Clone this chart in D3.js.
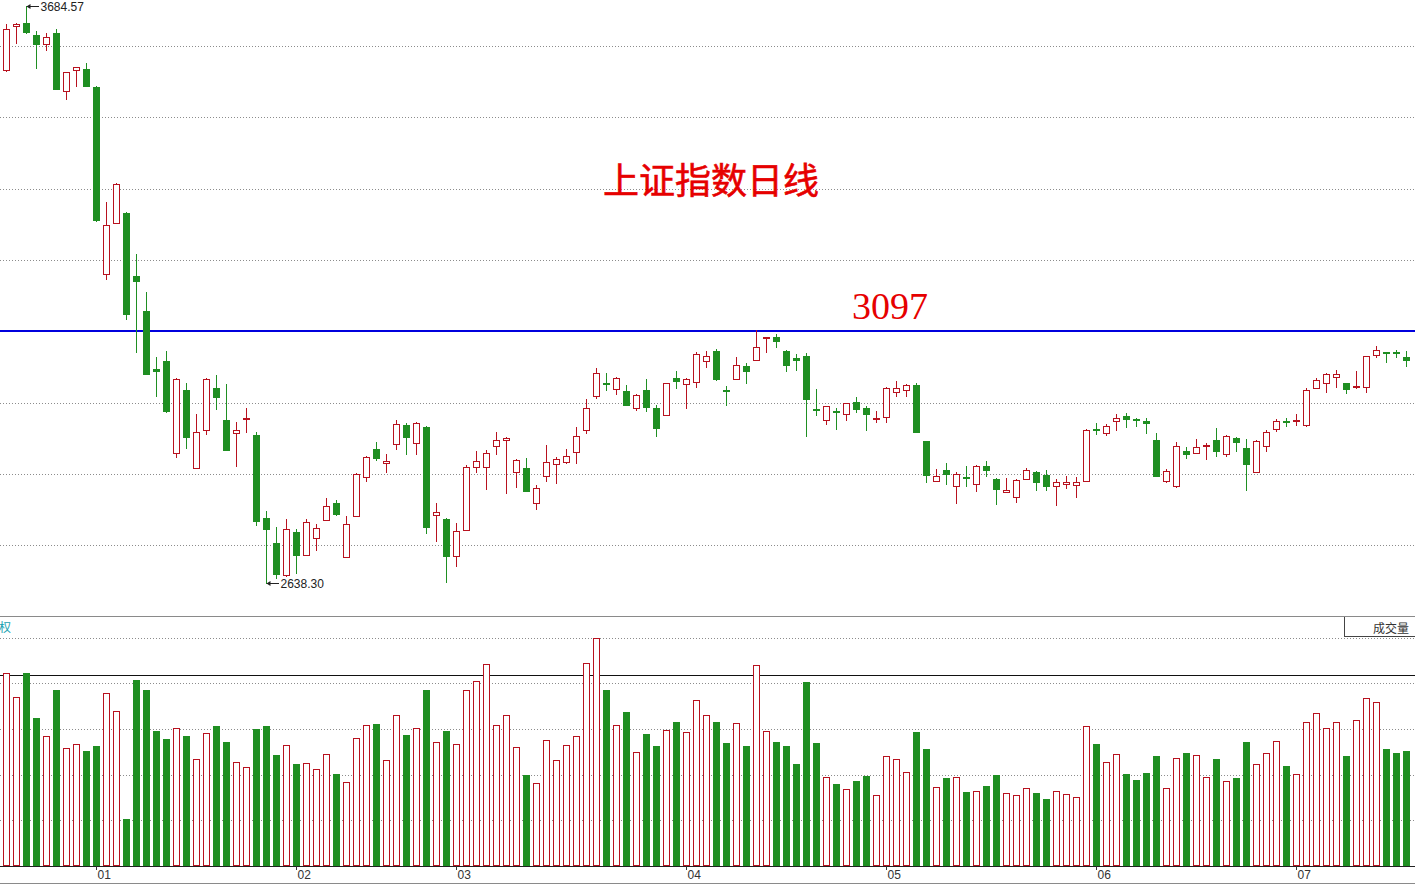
<!DOCTYPE html>
<html lang="zh-CN">
<head>
<meta charset="UTF-8">
<title>上证指数日线</title>
<style>
  body { margin: 0; background: #fff; overflow: hidden; }
  svg { display: block; }
  .grid line { stroke: #8c8c8c; stroke-dasharray: 1,2; }
  .month-axis text { font-family: "Liberation Sans", Arial, sans-serif; font-size: 12px; fill: #333; }
  .month-axis .domain { display: none; }
  .month-axis line { stroke: #333; }
  .note { font-family: "Liberation Sans", Arial, sans-serif; font-size: 12px; fill: #222; }
</style>
</head>
<body>
<div id="chart"></div>
<script src="https://d3js.org/d3.v7.min.js"></script>
<script>
// trading days, 2015-12-21 .. 2016-07-18
const dates = [
  "2015-12-21","2015-12-22","2015-12-23","2015-12-24","2015-12-25","2015-12-28","2015-12-29","2015-12-30","2015-12-31",
  "2016-01-04","2016-01-05","2016-01-06","2016-01-07","2016-01-08","2016-01-11","2016-01-12","2016-01-13","2016-01-14","2016-01-15",
  "2016-01-18","2016-01-19","2016-01-20","2016-01-21","2016-01-22","2016-01-25","2016-01-26","2016-01-27","2016-01-28","2016-01-29",
  "2016-02-01","2016-02-02","2016-02-03","2016-02-04","2016-02-05","2016-02-15","2016-02-16","2016-02-17","2016-02-18","2016-02-19",
  "2016-02-22","2016-02-23","2016-02-24","2016-02-25","2016-02-26","2016-02-29",
  "2016-03-01","2016-03-02","2016-03-03","2016-03-04","2016-03-07","2016-03-08","2016-03-09","2016-03-10","2016-03-11",
  "2016-03-14","2016-03-15","2016-03-16","2016-03-17","2016-03-18","2016-03-21","2016-03-22","2016-03-23","2016-03-24","2016-03-25",
  "2016-03-28","2016-03-29","2016-03-30","2016-03-31",
  "2016-04-01","2016-04-05","2016-04-06","2016-04-07","2016-04-08","2016-04-11","2016-04-12","2016-04-13","2016-04-14","2016-04-15",
  "2016-04-18","2016-04-19","2016-04-20","2016-04-21","2016-04-22","2016-04-25","2016-04-26","2016-04-27","2016-04-28","2016-04-29",
  "2016-05-03","2016-05-04","2016-05-05","2016-05-06","2016-05-09","2016-05-10","2016-05-11","2016-05-12","2016-05-13",
  "2016-05-16","2016-05-17","2016-05-18","2016-05-19","2016-05-20","2016-05-23","2016-05-24","2016-05-25","2016-05-26","2016-05-27",
  "2016-05-30","2016-05-31",
  "2016-06-01","2016-06-02","2016-06-03","2016-06-06","2016-06-07","2016-06-08","2016-06-13","2016-06-14","2016-06-15","2016-06-16","2016-06-17",
  "2016-06-20","2016-06-21","2016-06-22","2016-06-23","2016-06-24","2016-06-27","2016-06-28","2016-06-29","2016-06-30",
  "2016-07-01","2016-07-04","2016-07-05","2016-07-06","2016-07-07","2016-07-08","2016-07-11","2016-07-12","2016-07-13","2016-07-14","2016-07-15",
  "2016-07-18"
];

const open = [
  3568.6, 3648.3, 3653.2, 3632.0, 3615.2, 3635.6, 3530.0, 3568.0, 3570.4, 3538.3,
  3198.3, 3291.8, 3310.0, 3195.3, 3131.8, 3026.2, 3041.2, 2875.0, 2988.6, 2847.8,
  2915.6, 2992.8, 2934.3, 2911.3, 2935.5, 2907.6, 2756.7, 2711.4, 2653.9, 2731.3,
  2689.1, 2719.9, 2753.0, 2783.9, 2685.5, 2759.8, 2830.4, 2881.7, 2856.4, 2890.2,
  2925.2, 2892.1, 2921.6, 2761.6, 2754.9, 2688.4, 2734.0, 2848.6, 2849.6, 2887.7,
  2897.5, 2840.6, 2847.3, 2783.3, 2832.2, 2855.1, 2858.7, 2876.8, 2916.7, 2977.8,
  3001.9, 2991.0, 2986.8, 2956.0, 2988.6, 2956.0, 2942.8, 3009.9, 2999.0, 3002.6,
  3040.7, 3059.9, 2988.1, 3008.0, 3032.7, 3042.5, 3082.3, 3085.2, 3059.3, 3046.1,
  3050.8, 2954.2, 2933.7, 2951.1, 2945.7, 2966.3, 2956.0, 2936.1, 2940.3, 2984.5,
  2988.1, 2997.7, 2896.2, 2822.8, 2843.7, 2814.1, 2830.4, 2817.7, 2851.4, 2827.4,
  2803.2, 2794.2, 2826.8, 2840.0, 2834.6, 2814.1, 2818.8, 2815.9, 2823.2, 2918.0,
  2911.3, 2931.9, 2941.0, 2936.6, 2933.0, 2898.0, 2824.3, 2815.2, 2878.1, 2873.9,
  2888.4, 2898.0, 2872.7, 2901.7, 2883.5, 2840.6, 2886.6, 2918.5, 2931.9, 2931.9,
  2925.2, 2992.8, 3000.8, 3011.7, 3001.3, 2994.1, 2993.5, 3051.5, 3057.0, 3057.5,
  3048.4
];
const high = [
  3651.4, 3653.2, 3684.57, 3639.8, 3635.1, 3642.9, 3565.0, 3574.6, 3581.8, 3539.6,
  3329.9, 3363.2, 3311.2, 3235.1, 3165.7, 3047.9, 3059.3, 3010.9, 3001.9, 2945.2,
  3010.9, 3015.8, 2999.5, 2930.1, 2956.6, 2912.0, 2769.9, 2740.9, 2754.9, 2736.2,
  2754.9, 2745.3, 2792.4, 2789.3, 2760.3, 2838.8, 2869.6, 2893.9, 2872.7, 2934.3,
  2928.3, 2930.1, 2922.9, 2784.4, 2756.7, 2747.1, 2852.2, 2878.1, 2879.9, 2912.0,
  2902.9, 2863.1, 2864.9, 2816.5, 2888.4, 2866.7, 2881.2, 2921.0, 2971.8, 3028.0,
  3018.9, 3011.7, 2997.2, 2981.4, 3009.1, 2960.9, 3001.9, 3023.1, 3010.4, 3057.0,
  3059.3, 3062.4, 2995.4, 3047.9, 3038.1, 3096.5, 3085.2, 3089.6, 3060.6, 3053.9,
  3055.7, 2989.9, 2960.2, 2956.0, 2965.8, 2976.5, 2959.7, 2950.6, 2993.5, 3005.0,
  2999.0, 3001.9, 2897.1, 2845.1, 2856.9, 2840.6, 2850.9, 2852.7, 2860.0, 2829.2,
  2829.7, 2826.8, 2847.8, 2841.3, 2843.7, 2826.8, 2832.8, 2831.5, 2918.0, 2928.3,
  2926.5, 2945.2, 2946.4, 2937.3, 2938.5, 2910.2, 2845.0, 2893.9, 2885.9, 2899.8,
  2892.1, 2919.2, 2906.5, 2902.9, 2899.8, 2897.5, 2916.2, 2935.5, 2937.9, 2944.6,
  2991.7, 3010.9, 3018.9, 3024.9, 3001.9, 3023.1, 3050.8, 3068.4, 3057.5, 3061.7,
  3059.3
];
const low = [
  3566.8, 3618.1, 3635.6, 3572.8, 3604.8, 3533.6, 3516.6, 3540.1, 3539.6, 3294.9,
  3190.4, 3290.8, 3116.8, 3058.1, 3017.0, 2978.3, 2949.3, 2867.8, 2884.1, 2846.7,
  2908.4, 2953.7, 2879.0, 2851.5, 2913.1, 2744.0, 2638.30, 2648.5, 2651.6, 2656.4,
  2689.1, 2698.7, 2753.0, 2762.1, 2685.5, 2759.8, 2824.3, 2861.2, 2840.6, 2881.2,
  2873.2, 2873.2, 2730.0, 2715.5, 2640.1, 2669.7, 2734.0, 2840.6, 2809.2, 2872.1,
  2802.5, 2812.3, 2805.6, 2773.0, 2824.3, 2820.6, 2855.8, 2856.9, 2910.2, 2974.7,
  2988.6, 2981.9, 2962.0, 2952.4, 2950.6, 2905.8, 2942.8, 2992.8, 2956.6, 2994.6,
  3029.8, 3006.8, 2962.0, 3008.0, 3001.9, 3042.5, 3058.1, 3067.1, 3023.6, 3024.9,
  2905.8, 2943.3, 2927.6, 2918.0, 2934.8, 2949.3, 2916.2, 2931.2, 2930.7, 2978.3,
  2977.8, 2913.1, 2821.9, 2822.8, 2818.3, 2783.3, 2814.7, 2805.6, 2833.3, 2782.6,
  2803.2, 2786.2, 2826.8, 2807.4, 2807.4, 2780.8, 2810.5, 2795.3, 2823.2, 2909.4,
  2907.6, 2916.2, 2922.1, 2923.9, 2910.2, 2833.3, 2822.5, 2812.9, 2865.4, 2873.9,
  2864.1, 2869.0, 2869.6, 2878.6, 2806.9, 2840.6, 2878.1, 2914.9, 2922.9, 2925.8,
  2923.9, 2991.7, 2985.0, 2994.6, 2983.8, 2992.8, 2985.0, 3049.0, 3038.8, 3049.0,
  3032.1
];
const close = [
  3642.3, 3651.9, 3637.5, 3615.2, 3627.8, 3534.7, 3565.0, 3573.5, 3540.1, 3296.7,
  3287.1, 3362.0, 3125.8, 3186.7, 3018.2, 3023.6, 2951.1, 3008.6, 2902.9, 2913.1,
  3008.6, 2976.5, 2880.5, 2915.6, 2937.9, 2750.7, 2736.2, 2655.2, 2736.7, 2690.2,
  2749.4, 2738.0, 2779.0, 2764.5, 2745.3, 2835.9, 2867.2, 2864.9, 2860.0, 2927.0,
  2904.0, 2928.3, 2740.9, 2767.0, 2688.4, 2733.1, 2849.1, 2859.1, 2873.9, 2897.5,
  2901.7, 2861.8, 2805.6, 2810.5, 2858.7, 2863.6, 2869.6, 2904.7, 2955.5, 3018.9,
  2999.5, 3009.9, 2962.0, 2979.0, 2958.4, 2920.3, 3000.8, 3005.5, 3009.1, 3053.3,
  3049.7, 3008.6, 2986.3, 3033.4, 3023.6, 3066.0, 3084.2, 3078.0, 3034.5, 3043.6,
  2972.3, 2952.4, 2959.1, 2948.8, 2964.5, 2954.8, 2945.7, 2937.9, 2992.3, 2991.7,
  2997.2, 2913.1, 2834.1, 2832.8, 2836.4, 2835.9, 2828.6, 2850.9, 2844.2, 2808.7,
  2806.9, 2825.0, 2843.1, 2822.5, 2815.2, 2821.4, 2821.4, 2821.4, 2916.2, 2915.6,
  2923.9, 2937.9, 2935.5, 2935.5, 2928.3, 2833.3, 2841.3, 2887.2, 2873.2, 2884.8,
  2889.5, 2878.6, 2905.3, 2893.9, 2855.1, 2896.2, 2912.5, 2932.5, 2930.1, 2933.7,
  2988.1, 3006.2, 3017.1, 3018.2, 2989.9, 2995.9, 3049.7, 3060.6, 3055.7, 3055.2,
  3043.6
];
const volume = [
  2115, 1849, 2115, 1621, 1417, 1925, 1294, 1337, 1258, 1313,
  1893, 1696,  510, 2035, 1930, 1479, 1386, 1510, 1417, 1171,
  1460, 1535, 1357, 1138, 1083, 1499, 1535, 1214, 1324, 1116,
  1127, 1061, 1220, 1010,  919, 1400, 1543, 1553, 1160, 1652,
  1433, 1510, 1925, 1357, 1477, 1335, 1930, 2028, 2213, 1547,
  1652, 1306,  991,  911, 1381, 1160, 1324, 1422, 2221, 2498,
  1925, 1547, 1689, 1250, 1444, 1313, 1491, 1572, 1466, 1818,
  1652, 1572, 1346, 1564, 1313, 2201, 1479, 1357, 1313, 1121,
  2016, 1349,  974,  898,  842,  930,  985,  777, 1208, 1171,
  1028, 1466, 1281,  868,  966,  974,  812,  825,  875,  998,
   799,  781,  856,  799,  733,  821,  788,  755, 1528, 1337,
  1140, 1225, 1010,  941, 1017, 1208,  856, 1182, 1238, 1214,
   974, 1171,  930,  966, 1357, 1116, 1238, 1368, 1096, 1003,
  1578, 1676, 1510, 1578, 1208, 1597, 1838, 1794, 1281, 1232,
  1257
];

const priceGrid = [3612.1, 3482.9, 3353.6, 3224.2, 3095.0, 2965.8, 2836.4, 2707.2];
const volumeGrid = [500, 1000, 1500, 2000, 2500];
const resistance = 3097;
const volumeRef = 2090;
const titleText = "上证指数日线";

const W = 1415, H = 885;
const UP = "#b8121f", DOWN = "#1f8f22";

const data = dates.map((d, i) => ({
  date: d, open: open[i], high: high[i], low: low[i], close: close[i], volume: volume[i]
}));

const x = d3.scaleBand().domain(dates).range([1.5, 1411.5]);
const cx = d => x(d) + x.bandwidth() / 2;
const y = d3.scaleLinear().domain([2638.30, 3684.57]).range([583.3, 6]);
const vy = d3.scaleLinear().domain([0, 2500]).range([866, 637.5]);
const crisp = v => Math.round(v) + 0.5;

const svg = d3.select("#chart").append("svg")
  .attr("width", W).attr("height", H)
  .attr("shape-rendering", "crispEdges");

// price grid
svg.append("g").attr("class", "grid")
  .selectAll("line").data(priceGrid).enter().append("line")
  .attr("x1", 0).attr("x2", W)
  .attr("y1", d => crisp(y(d))).attr("y2", d => crisp(y(d)));

// title and the 3097 line
svg.append("text")
  .attr("x", 603).attr("y", 194)
  .attr("shape-rendering", "auto")
  .style("font-family", "'Noto Sans CJK SC', sans-serif")
  .style("font-size", "36px")
  .attr("fill", "#e60000").attr("stroke", "#e60000").attr("stroke-width", 0.6)
  .text(titleText);

svg.append("line")
  .attr("x1", 0).attr("x2", W)
  .attr("y1", Math.round(y(resistance)) + 0.5).attr("y2", Math.round(y(resistance)) + 0.5)
  .attr("stroke", "#0000dd").attr("stroke-width", 2);

svg.append("text")
  .attr("x", 852).attr("y", 319)
  .style("font-family", "'Liberation Serif', 'Times New Roman', serif")
  .style("font-size", "38px")
  .attr("fill", "#e60000")
  .text(resistance);

// candles
const candles = svg.append("g").selectAll("g").data(data).enter().append("g");

candles.each(function (d) {
  const g = d3.select(this);
  const up = d.close >= d.open;
  const c = cx(d.date);
  const top = Math.round(y(Math.max(d.open, d.close)));
  const bot = Math.round(y(Math.min(d.open, d.close)));
  const col = up ? UP : DOWN;
  g.append("line").attr("x1", c).attr("x2", c)
    .attr("y1", Math.round(y(d.high))).attr("y2", top)
    .attr("stroke", col);
  g.append("line").attr("x1", c).attr("x2", c)
    .attr("y1", bot).attr("y2", Math.round(y(d.low)) + 1)
    .attr("stroke", col);
  if (up) {
    g.append("rect")
      .attr("x", c - 3).attr("y", top + 0.5)
      .attr("width", 6).attr("height", Math.max(1, bot - top))
      .attr("fill", "#fff").attr("stroke", col);
  } else {
    g.append("rect")
      .attr("x", c - 3.5).attr("y", top)
      .attr("width", 7).attr("height", Math.max(2, bot - top + 1))
      .attr("fill", col);
  }
});

// extreme labels
function pointer(d, val, ty) {
  const c = cx(d.date), py = Math.round(y(val)) + 0.5;
  svg.append("line").attr("x1", c).attr("x2", c + 12)
    .attr("y1", py).attr("y2", py).attr("stroke", "#222");
  svg.append("path").attr("shape-rendering", "auto")
    .attr("d", `M${c},${py} l4,-2.5 l0,5 z`).attr("fill", "#222");
  svg.append("text").attr("class", "note")
    .attr("x", c + 14).attr("y", py + ty)
    .text(d3.format(".2f")(val));
}
const hiDay = data[d3.maxIndex(data, d => d.high)];
const loDay = data[d3.minIndex(data, d => d.low)];
pointer(hiDay, hiDay.high, 4.5);
pointer(loDay, loDay.low, 4.5);

// volume panel frame
svg.append("line").attr("x1", 0).attr("x2", W).attr("y1", 616.5).attr("y2", 616.5)
  .attr("stroke", "#8a8a8a");
svg.append("g").attr("class", "grid")
  .selectAll("line").data(volumeGrid).enter().append("line")
  .attr("x1", 0).attr("x2", W)
  .attr("y1", d => crisp(vy(d))).attr("y2", d => crisp(vy(d)));
svg.append("line").attr("x1", 0).attr("x2", W)
  .attr("y1", crisp(vy(volumeRef))).attr("y2", crisp(vy(volumeRef)))
  .attr("stroke", "#111");

svg.append("text").attr("x", -1).attr("y", 632)
  .style("font-family", "'Noto Sans CJK SC', sans-serif").style("font-size", "12px")
  .attr("fill", "#1a9fb0").text("权");

svg.append("path").attr("d", "M1344.5,617V636.5H1415")
  .attr("fill", "none").attr("stroke", "#444");
svg.append("text").attr("x", 1373).attr("y", 633)
  .style("font-family", "'Noto Sans CJK SC', sans-serif").style("font-size", "12px")
  .attr("fill", "#333").text("成交量");

// volume bars
svg.append("g").selectAll("rect").data(data).enter().append("rect")
  .each(function (d) {
    const up = d.close >= d.open;
    const t = Math.round(vy(d.volume));
    const r = d3.select(this);
    if (up) {
      r.attr("x", cx(d.date) - 3).attr("y", t + 0.5)
        .attr("width", 6).attr("height", 866 - t - 1)
        .attr("fill", "#fff").attr("stroke", UP);
    } else {
      r.attr("x", cx(d.date) - 3.5).attr("y", t)
        .attr("width", 7).attr("height", 866 - t)
        .attr("fill", DOWN);
    }
  });

svg.append("line").attr("x1", 0).attr("x2", W).attr("y1", 866.5).attr("y2", 866.5)
  .attr("stroke", "#222");
svg.append("line").attr("x1", 0).attr("x2", W).attr("y1", 883.5).attr("y2", 883.5)
  .attr("stroke", "#8a8a8a");

// month ticks at the first trading day of each month
const monthStarts = dates.filter((d, i) => i > 0 && d.slice(5, 7) !== dates[i - 1].slice(5, 7));
const axis = svg.append("g").attr("class", "month-axis")
  .attr("transform", "translate(0,866)")
  .call(d3.axisBottom(x).tickValues(monthStarts).tickSize(4).tickFormat(d => d.slice(5, 7)));
axis.selectAll("text").attr("x", 1).attr("y", 13).attr("dy", null)
  .attr("text-anchor", "start");
</script>
</body>
</html>
